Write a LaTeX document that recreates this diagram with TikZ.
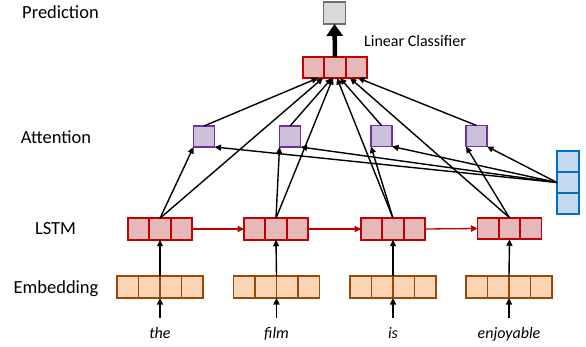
\documentclass[tikz,border=0pt]{standalone}
\usepackage{fontspec}
\setmainfont{Carlito}
\usetikzlibrary{calc,arrows.meta}
\definecolor{lstmD}{HTML}{C00000}
\definecolor{lstmF}{HTML}{E6B8B7}
\definecolor{attD}{HTML}{7030A0}
\definecolor{attF}{HTML}{CCC0DA}
\definecolor{embD}{HTML}{984807}
\definecolor{embF}{HTML}{FCD5B4}
\definecolor{qD}{HTML}{0070C0}
\definecolor{qF}{HTML}{C5D9F1}
\definecolor{predD}{HTML}{6E6E6E}
\definecolor{predF}{HTML}{D9D9D9}
\tikzset{
  box/.style={inner sep=0pt, outer sep=0pt, line width=1.8pt},
  hdiv/.style 2 args={path picture={\foreach \f in {#1} \draw[line width=1.8pt,#2] ($(path picture bounding box.south west)!\f!(path picture bounding box.south east)$) -- ($(path picture bounding box.north west)!\f!(path picture bounding box.north east)$);}},
  vdiv/.style 2 args={path picture={\foreach \f in {#1} \draw[line width=1.8pt,#2] ($(path picture bounding box.south west)!\f!(path picture bounding box.north west)$) -- ($(path picture bounding box.south east)!\f!(path picture bounding box.north east)$);}},
  lstmvec/.style={box, draw=lstmD, fill=lstmF, minimum width=64pt, minimum height=21.5pt, hdiv={0.3333,0.6667}{lstmD}},
  clsvec/.style={box, draw=lstmD, fill=lstmF, minimum width=64pt, minimum height=21pt, hdiv={0.3333,0.6667}{lstmD}},
  embvec/.style={box, draw=embD, fill=embF, minimum width=86pt, minimum height=22pt, hdiv={0.25,0.5,0.75}{embD}},
  attbox/.style={box, draw=attD, fill=attF, minimum width=21pt, minimum height=21pt},
  qvec/.style={box, draw=qD, fill=qF, minimum width=22pt, minimum height=63pt, vdiv={0.3333,0.6667}{qD}},
  predbox/.style={box, draw=predD, fill=predF, minimum width=22pt, minimum height=22pt},
  layerlabel/.style={anchor=base, inner sep=0pt, font=\fontsize{18.5}{22}\selectfont},
  word/.style={anchor=base, inner xsep=0pt, inner ysep=9pt, text height=11pt, text depth=4pt, font=\fontsize{16}{19}\selectfont\itshape},
  arr/.style={-{Triangle[length=6.5pt,width=6pt]}, line width=1.4pt, black},
  redarr/.style={-{Triangle[length=6.5pt,width=6.5pt]}, line width=1.3pt, lstmD},
  bigarr/.style={-{Triangle[length=12pt,width=16pt]}, line width=4.5pt, black}
}
\begin{document}
\begin{tikzpicture}[x=1pt,y=-1pt]
\useasboundingbox (0,0) rectangle (586,347);
% layer labels
\node[layerlabel] (lpred) at (60.5,19) {Prediction};
\node[layerlabel] (latt) at (56,144) {Attention};
\node[layerlabel] (llstm) at (55.5,235) {LSTM};
\node[layerlabel] (lemb) at (56,293) {Embedding};
% prediction and classifier
\node[predbox] (pred) at (334.5,13) {};
\node[clsvec] (cls) at (335,67.5) {};
\node[anchor=base west, inner sep=0pt, font=\fontsize{16}{19}\selectfont] (lctxt) at (364,47) {Linear Classifier};
% attention boxes
\node[attbox] (a1) at (204,136.5) {};
\node[attbox] (a2) at (290,136.5) {};
\node[attbox] (a3) at (381.5,136) {};
\node[attbox] (a4) at (476.5,136) {};
% query vector
\node[qvec] (q) at (568,182.5) {};
% LSTM
\node[lstmvec] (h1) at (160,229) {};
\node[lstmvec] (h2) at (276,229) {};
\node[lstmvec] (h3) at (393,229) {};
\node[lstmvec] (h4) at (509.5,228.5) {};
% embeddings
\node[embvec] (e1) at (160,287) {};
\node[embvec] (e2) at (276.5,287) {};
\node[embvec] (e3) at (393,287) {};
\node[embvec] (e4) at (509,287) {};
% words
\node[word] (w1) at (160,338) {the};
\node[word] (w2) at (276.5,338) {film};
\node[word] (w3) at (393,338) {is};
\node[word] (w4) at (509,338) {enjoyable};
% connectors
\draw[bigarr] (cls.north) -- (pred.south);
\foreach \i in {1,2,3,4} {
  \draw[arr] (w\i.north) -- (e\i.south);
  \draw[arr] (e\i.north) -- (h\i.south);
  \draw[arr] (h\i.north) -- (a\i.south west);
  \draw[arr] (q.west) -- (a\i.south east);
}
\draw[redarr] (h1.east) -- (h2.west);
\draw[redarr] (h2.east) -- (h3.west);
\draw[redarr] (h3.east) -- (h4.west);
\draw[arr] (a1.north) -- ([xshift=-17pt]cls.south);
\draw[arr] (h1.north) -- ([xshift=-12pt]cls.south);
\draw[arr] (a2.north) -- ([xshift=-3pt]cls.south);
\draw[arr] (h2.north) -- ([xshift=-2pt]cls.south);
\draw[arr] (h3.north) -- ([xshift=2pt]cls.south);
\draw[arr] (a3.north) -- ([xshift=5pt]cls.south);
\draw[arr] (h4.north) -- ([xshift=15pt]cls.south);
\draw[arr] (a4.north) -- ([xshift=23pt]cls.south);
\end{tikzpicture}
\end{document}
